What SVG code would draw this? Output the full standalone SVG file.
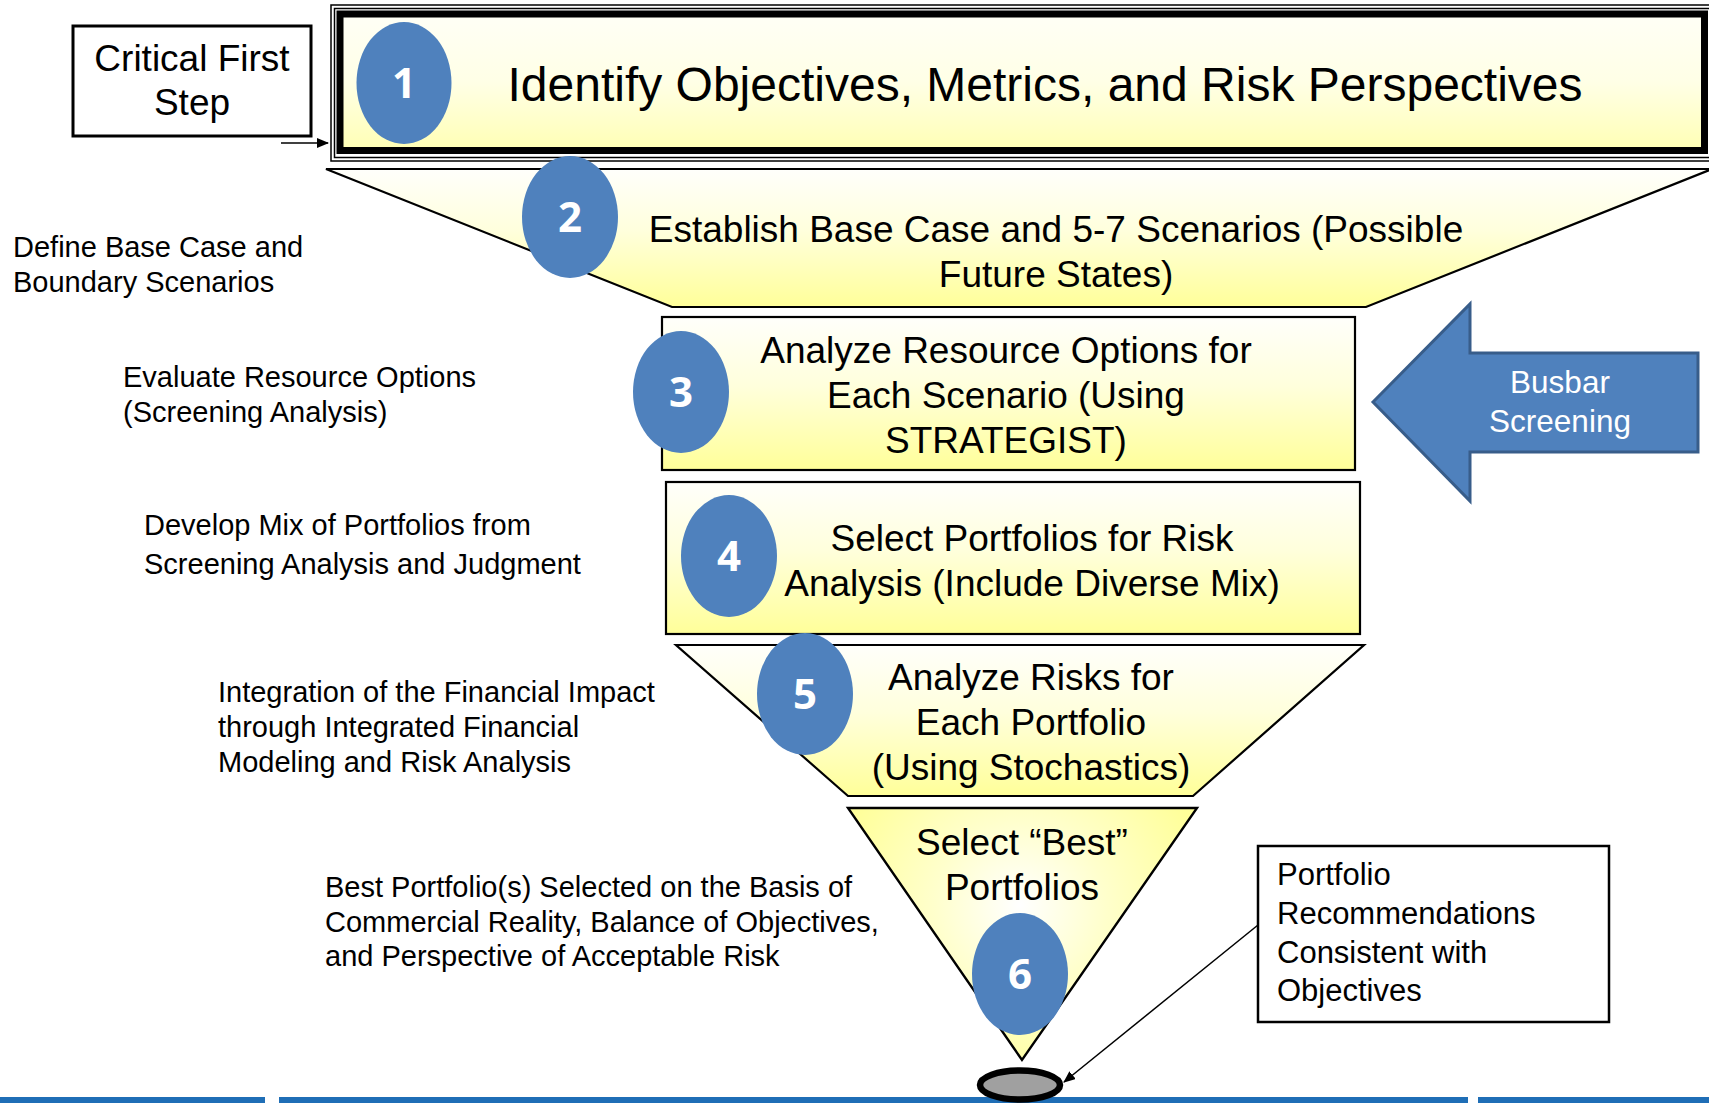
<svg xmlns="http://www.w3.org/2000/svg" width="1709" height="1103" viewBox="0 0 1709 1103">
<defs>
<style>
.t{font-family:'Liberation Sans',Arial,sans-serif;fill:#000}
.s37{font-size:37px;text-anchor:middle}
.lbl{font-size:29px}
.num{font-family:'Open Sans','Liberation Sans',sans-serif;font-weight:700;font-size:42px;fill:#fff;text-anchor:middle}
.circ{fill:#4F81BD}
.box{stroke:#000;stroke-width:2.2}
</style>
<linearGradient id="gY" x1="0" y1="0" x2="0" y2="1">
<stop offset="0" stop-color="#FFFFFB"/>
<stop offset="0.45" stop-color="#FFFFDC"/>
<stop offset="1" stop-color="#FFFF99"/>
</linearGradient>
<linearGradient id="g1" x1="0" y1="0" x2="0" y2="1">
<stop offset="0" stop-color="#FFFFF6"/>
<stop offset="0.5" stop-color="#FFFFE6"/>
<stop offset="1" stop-color="#FFFFB4"/>
</linearGradient>
<radialGradient id="g6" gradientUnits="userSpaceOnUse" cx="1020" cy="905" r="190">
<stop offset="0" stop-color="#FFFFFF"/>
<stop offset="0.45" stop-color="#FFFFCC"/>
<stop offset="1" stop-color="#FFFF99"/>
</radialGradient>
<marker id="ah" markerWidth="12" markerHeight="10" refX="11" refY="5" orient="auto" markerUnits="userSpaceOnUse">
<path d="M0,0 L12,5 L0,10 Z" fill="#000"/>
</marker>
</defs>

<g id="bottom-bar">
<rect x="0" y="1097" width="265" height="6" fill="#1F6EB6"/>
<rect x="279" y="1097" width="1189" height="6" fill="#1F6EB6"/>
<rect x="1478" y="1097" width="231" height="6" fill="#1F6EB6"/>
</g>

<g id="critical-first-step">
<rect x="73" y="26" width="238" height="110" fill="#fff" stroke="#000" stroke-width="3"/>
<text class="t s37" x="192" y="71">Critical First</text>
<text class="t s37" x="192" y="115">Step</text>
</g>

<g id="step1">
<rect x="331" y="5" width="1400" height="156" fill="none" stroke="#000" stroke-width="1.5"/>
<rect x="334.5" y="8.5" width="1400" height="149" fill="none" stroke="#000" stroke-width="1.5"/>
<rect x="340" y="14" width="1364.5" height="136.5" fill="url(#g1)" stroke="#000" stroke-width="7"/>
<text class="t" x="1045" y="101" font-size="48" text-anchor="middle">Identify Objectives, Metrics, and Risk Perspectives</text>
<ellipse class="circ" cx="404" cy="83" rx="47.5" ry="61"/>
<text class="num" x="404" y="98">1</text>
</g>

<g id="step2">
<path d="M326,169 L1712,169 L1366,307 L672,307 Z" fill="url(#gY)" stroke="#000" stroke-width="2.2"/>
<text class="t s37" x="1056" y="242">Establish Base Case and 5-7 Scenarios (Possible</text>
<text class="t s37" x="1056" y="287">Future States)</text>
<ellipse class="circ" cx="570" cy="217" rx="48" ry="61"/>
<text class="num" x="570" y="232">2</text>
</g>

<g id="step3">
<rect class="box" x="662" y="317" width="693" height="153" fill="url(#gY)"/>
<text class="t s37" x="1006" y="363">Analyze Resource Options for</text>
<text class="t s37" x="1006" y="408">Each Scenario (Using</text>
<text class="t s37" x="1006" y="453">STRATEGIST)</text>
<ellipse class="circ" cx="681" cy="392" rx="48" ry="61"/>
<text class="num" x="681" y="407">3</text>
</g>

<g id="busbar-screening">
<path d="M1373,402 L1470,304 L1470,353 L1698,353 L1698,452 L1470,452 L1470,501 Z" fill="#4F81BD" stroke="#385D8A" stroke-width="3" stroke-linejoin="miter"/>
<text x="1560" y="393" font-family="'Liberation Sans',Arial,sans-serif" font-size="31.5" fill="#fff" text-anchor="middle">Busbar</text>
<text x="1560" y="432" font-family="'Liberation Sans',Arial,sans-serif" font-size="31.5" fill="#fff" text-anchor="middle">Screening</text>
</g>

<g id="step4">
<rect class="box" x="666" y="482" width="694" height="152" fill="url(#gY)"/>
<text class="t s37" x="1032" y="551">Select Portfolios for Risk</text>
<text class="t s37" x="1032" y="596">Analysis (Include Diverse Mix)</text>
<ellipse class="circ" cx="729" cy="556" rx="48" ry="61"/>
<text class="num" x="729" y="571">4</text>
</g>

<g id="step5">
<path d="M676,645 L1364,645 L1193,796 L848,796 Z" fill="url(#gY)" stroke="#000" stroke-width="2.2"/>
<text class="t s37" x="1031" y="690">Analyze Risks for</text>
<text class="t s37" x="1031" y="735">Each Portfolio</text>
<text class="t s37" x="1031" y="780">(Using Stochastics)</text>
<ellipse class="circ" cx="805" cy="694" rx="48" ry="61"/>
<text class="num" x="805" y="709">5</text>
</g>

<g id="step6">
<path d="M848,808 L1197,808 L1022,1060 Z" fill="url(#g6)" stroke="#000" stroke-width="2.4"/>
<text class="t s37" x="1022" y="855">Select “Best”</text>
<text class="t s37" x="1022" y="900">Portfolios</text>
<ellipse class="circ" cx="1020" cy="974" rx="48" ry="61"/>
<text class="num" x="1020" y="989">6</text>
</g>

<g id="result-ellipse">
<ellipse cx="1020" cy="1085" rx="40" ry="14.5" fill="#A0A0A0" stroke="#000" stroke-width="6.5"/>
</g>

<g id="portfolio-recommendations">
<rect x="1258" y="846" width="351" height="176" fill="#fff" stroke="#000" stroke-width="2.5"/>
<text class="t" x="1277" y="885" font-size="31">Portfolio</text>
<text class="t" x="1277" y="924" font-size="31">Recommendations</text>
<text class="t" x="1277" y="963" font-size="31">Consistent with</text>
<text class="t" x="1277" y="1001" font-size="31">Objectives</text>
</g>

<g id="side-labels">
<text class="t lbl" x="13" y="257">Define Base Case and</text>
<text class="t lbl" x="13" y="292">Boundary Scenarios</text>
<text class="t lbl" x="123" y="387">Evaluate Resource Options</text>
<text class="t lbl" x="123" y="422">(Screening Analysis)</text>
<text class="t lbl" x="144" y="535">Develop Mix of Portfolios from</text>
<text class="t lbl" x="144" y="574">Screening Analysis and Judgment</text>
<text class="t lbl" x="218" y="702">Integration of the Financial Impact</text>
<text class="t lbl" x="218" y="737">through Integrated Financial</text>
<text class="t lbl" x="218" y="772">Modeling and Risk Analysis</text>
<text class="t lbl" x="325" y="897">Best Portfolio(s) Selected on the Basis of</text>
<text class="t lbl" x="325" y="932">Commercial Reality, Balance of Objectives,</text>
<text class="t lbl" x="325" y="966">and Perspective of Acceptable Risk</text>
</g>

<g id="connectors" fill="none" stroke="#000">
<line x1="281" y1="143" x2="328" y2="143" stroke-width="1.5" marker-end="url(#ah)"/>
<line x1="1258" y1="925" x2="1064" y2="1082" stroke-width="1.5" marker-end="url(#ah)"/>
</g>
</svg>
